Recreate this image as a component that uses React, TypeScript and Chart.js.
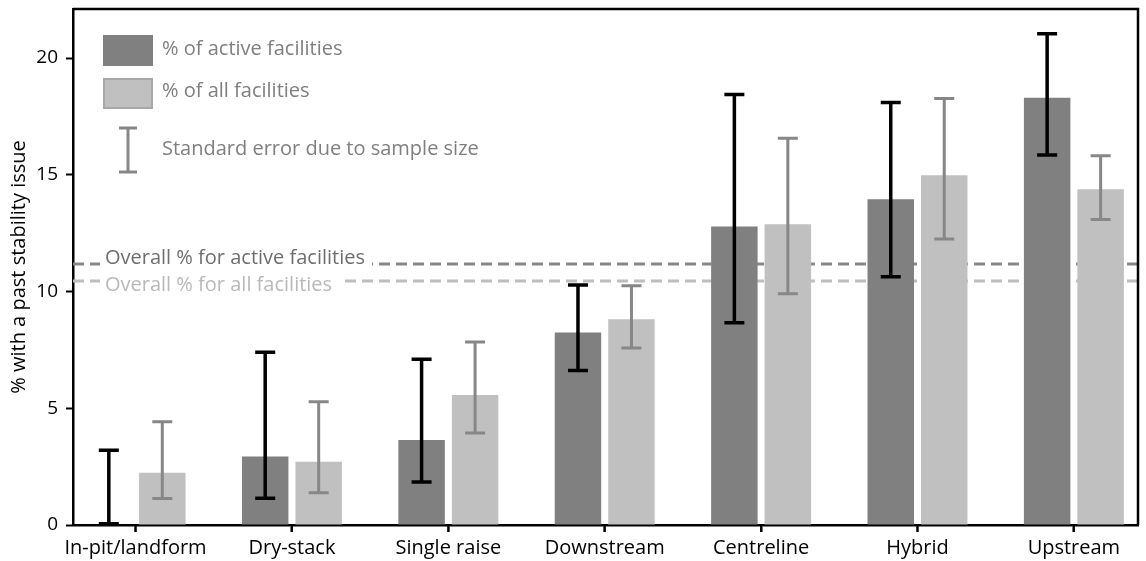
import React, { useEffect, useRef } from "react";
import { Chart, registerables } from "chart.js";

Chart.register(...registerables);

const categories = ["In-pit/landform", "Dry-stack", "Single raise", "Downstream", "Centreline", "Hybrid", "Upstream"];
const activeValues = [0, 2.93, 3.64, 8.25, 12.78, 13.95, 18.3];
const activeErrLow = [0.05, 1.15, 1.84, 6.62, 8.66, 10.63, 15.85];
const activeErrHigh = [3.2, 7.4, 7.1, 10.28, 18.44, 18.1, 21.04];
const allValues = [2.24, 2.71, 5.57, 8.81, 12.88, 14.98, 14.38];
const allErrLow = [1.14, 1.38, 3.94, 7.58, 9.9, 12.25, 13.08];
const allErrHigh = [4.42, 5.28, 7.84, 10.25, 16.56, 18.27, 15.82];
const overallActive = 11.18;
const overallAll = 10.45;
const yTicks = [0, 5, 10, 15, 20];

const seriesLabels = ["% of active facilities", "% of all facilities"];
const errorLegendLabel = "Standard error due to sample size";
const overallActiveLabel = "Overall % for active facilities";
const overallAllLabel = "Overall % for all facilities";
const yTitle = "% with a past stability issue";

const FONT = "'Open Sans', 'Noto Sans', sans-serif";

export default function App() {
  const ref = useRef<HTMLCanvasElement | null>(null);

  useEffect(() => {
    const canvas = ref.current;
    if (!canvas) return;

    const custom = {
      id: "custom",
      beforeDatasetsDraw(chart: any) {
        const { ctx, chartArea } = chart;
        const y = chart.scales.y;
        const lines = [
          { v: overallActive, color: "#878787", label: overallActiveLabel, textColor: "#6e6e6e", textDy: -6 },
          { v: overallAll, color: "#bebebe", label: overallAllLabel, textColor: "#b9b9b9", textDy: 4 },
        ];
        ctx.save();
        for (const l of lines) {
          const py = y.getPixelForValue(l.v);
          ctx.beginPath();
          ctx.setLineDash([11, 6]);
          ctx.lineWidth = 3;
          ctx.strokeStyle = l.color;
          ctx.moveTo(chartArea.left, py);
          ctx.lineTo(chartArea.right, py);
          ctx.stroke();
        }
        ctx.setLineDash([]);
        ctx.font = `20px ${FONT}`;
        ctx.textBaseline = "middle";
        ctx.textAlign = "left";
        for (const l of lines) {
          const py = y.getPixelForValue(l.v);
          const w = ctx.measureText(l.label).width;
          const tx = chartArea.left + 32;
          ctx.fillStyle = "#ffffff";
          ctx.fillRect(tx - 5, py - 3, w + 12, 6);
          ctx.fillStyle = l.textColor;
          ctx.fillText(l.label, tx, py + l.textDy);
        }
        ctx.restore();
      },
      afterDatasetsDraw(chart: any) {
        const { ctx, chartArea } = chart;
        const y = chart.scales.y;
        const sets = [
          { idx: 0, lo: activeErrLow, hi: activeErrHigh, color: "#000000", w: 3.5 },
          { idx: 1, lo: allErrLow, hi: allErrHigh, color: "#878787", w: 3 },
        ];
        ctx.save();
        for (const s of sets) {
          const meta = chart.getDatasetMeta(s.idx);
          meta.data.forEach((bar: any, i: number) => {
            const x = bar.x;
            const y1 = y.getPixelForValue(s.lo[i]);
            const y2 = y.getPixelForValue(s.hi[i]);
            ctx.strokeStyle = s.color;
            ctx.lineWidth = s.w;
            ctx.beginPath();
            ctx.moveTo(x, y1);
            ctx.lineTo(x, y2);
            ctx.moveTo(x - 10, y1);
            ctx.lineTo(x + 10, y1);
            ctx.moveTo(x - 10, y2);
            ctx.lineTo(x + 10, y2);
            ctx.stroke();
          });
        }
        // frame top and right
        ctx.strokeStyle = "#000";
        ctx.lineWidth = 2.5;
        ctx.beginPath();
        ctx.moveTo(chartArea.left, chartArea.top);
        ctx.lineTo(chartArea.right, chartArea.top);
        ctx.lineTo(chartArea.right, chartArea.bottom);
        ctx.stroke();

        // x tick marks
        const xs = chart.scales.x;
        ctx.lineWidth = 2;
        ctx.beginPath();
        categories.forEach((_, i) => {
          const px = xs.getPixelForValue(i);
          ctx.moveTo(px, chartArea.bottom);
          ctx.lineTo(px, chartArea.bottom + 7);
        });
        ctx.stroke();

        // legend
        const lx = chartArea.left + 30;
        const tx = chartArea.left + 89;
        ctx.fillStyle = "#808080";
        ctx.fillRect(lx, 35, 50, 31);
        ctx.fillStyle = "#c0c0c0";
        ctx.fillRect(lx, 78, 50, 31);
        ctx.strokeStyle = "#a8a8a8";
        ctx.lineWidth = 2;
        ctx.strokeRect(lx + 1, 79, 48, 29);
        const ex = lx + 25;
        ctx.strokeStyle = "#878787";
        ctx.lineWidth = 3;
        ctx.beginPath();
        ctx.moveTo(ex, 128);
        ctx.lineTo(ex, 172);
        ctx.moveTo(ex - 9, 128);
        ctx.lineTo(ex + 9, 128);
        ctx.moveTo(ex - 9, 172);
        ctx.lineTo(ex + 9, 172);
        ctx.stroke();
        ctx.font = `20px ${FONT}`;
        ctx.textBaseline = "middle";
        ctx.textAlign = "left";
        ctx.fillStyle = "#7f7f7f";
        ctx.fillText(seriesLabels[0], tx, 49);
        ctx.fillText(seriesLabels[1], tx, 91);
        ctx.fillText(errorLegendLabel, tx, 149);
        ctx.restore();
      },
    };

    const chart = new Chart(canvas, {
      type: "bar",
      data: {
        datasets: [
          {
            label: seriesLabels[0],
            data: categories.map((_, i) => ({ x: i, y: activeValues[i] })),
            backgroundColor: "#808080",
          },
          {
            label: seriesLabels[1],
            data: categories.map((_, i) => ({ x: i, y: allValues[i] })),
            backgroundColor: "#c0c0c0",
          },
        ],
      },
      options: {
        animation: false,
        responsive: true,
        maintainAspectRatio: false,
        layout: { padding: { left: 0, right: 8, top: 9, bottom: 0 } },
        datasets: { bar: { barPercentage: 0.869, categoryPercentage: 0.684 } } as any,
        scales: {
          x: {
            type: "linear",
            offset: false,
            min: -0.4,
            max: 6.41,
            afterBuildTicks: (s: any) => {
              s.ticks = categories.map((_, i) => ({ value: i }));
            },
            afterFit: (s: any) => {
              s.height = 36;
              s.paddingLeft = 0;
              s.paddingRight = 0;
            },
            grid: { display: true, offset: false, drawOnChartArea: false, drawTicks: true, tickLength: 7, tickWidth: 2, tickColor: "#000" },
            border: { display: true, color: "#000", width: 2.5 },
            ticks: {
              autoSkip: false,
              maxRotation: 0,
              padding: 4,
              color: "#000",
              font: { family: FONT, size: 20 },
              callback: (v: any) => categories[v as number] ?? "",
            },
          },
          y: {
            min: 0,
            max: 22.1,
            afterBuildTicks: (s: any) => {
              s.ticks = yTicks.map((v) => ({ value: v }));
            },
            afterFit: (s: any) => {
              s.width = 73;
              s.paddingTop = 0;
              s.paddingBottom = 0;
            },
            grid: { display: true, drawOnChartArea: false, drawTicks: true, tickLength: 7, tickWidth: 2, tickColor: "#000" },
            border: { display: true, color: "#000", width: 2.5 },
            ticks: {
              padding: 8,
              color: "#000",
              font: { family: FONT, size: 19 },
            },
            title: {
              display: true,
              text: yTitle,
              color: "#000",
              font: { family: FONT, size: 20 },
              padding: { top: 7, bottom: 0 },
            },
          },
        },
        plugins: { legend: { display: false }, tooltip: { enabled: false } },
      },
      plugins: [custom],
    });

    return () => chart.destroy();
  }, []);

  return (
    <div style={{ position: "fixed", left: 0, top: 0, width: 1146, height: 561, background: "#fff" }}>
      <canvas ref={ref} />
    </div>
  );
}
